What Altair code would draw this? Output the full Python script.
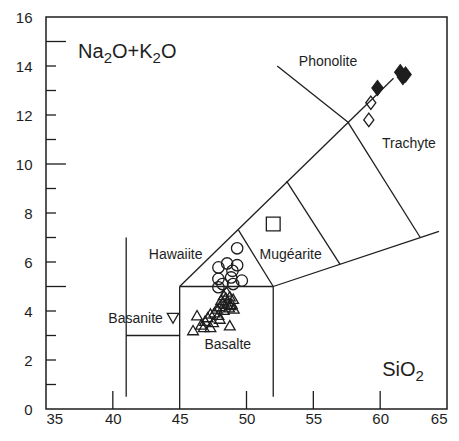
import altair as alt
import pandas as pd

# ---- data ----
circle_si = [49.3, 47.9, 48.55, 49.3, 48.95, 49.65, 47.9, 48.2, 48.85, 49.0, 47.9]
circle_alk = [6.56, 5.78, 5.94, 5.87, 5.64, 5.24, 5.31, 5.10, 5.37, 5.10, 4.97]

tri_si = [48.5, 48.3, 48.75, 49.0, 48.1, 48.6, 48.9, 48.35, 48.0, 48.7, 49.05, 47.8, 48.3,
          47.6, 47.3, 47.1, 46.9, 46.3, 46.0, 46.6, 46.8, 47.3, 48.0, 48.75, 47.5,
          48.45, 48.2, 48.8, 47.9]
tri_alk = [4.80, 4.65, 4.60, 4.50, 4.45, 4.40, 4.30, 4.30, 4.20, 4.15, 4.10, 4.10, 4.05,
           3.95, 3.90, 3.75, 3.60, 3.83, 3.22, 3.45, 3.35, 3.35, 3.69, 3.42, 3.55,
           4.55, 4.35, 4.25, 3.85]

invtri_si = [44.5]
invtri_alk = [3.7]

square_si = [52.0]
square_alk = [7.55]

odiam_si = [59.3, 59.15]
odiam_alk = [12.5, 11.8]

fdiam_si = [59.8, 61.5, 61.9, 61.7]
fdiam_alk = [13.1, 13.75, 13.65, 13.55]

# TAS field boundaries (SiO2, Na2O+K2O) segments
seg_x1 = [41, 41, 45, 45, 52, 45, 52.3, 57.6, 52, 49.4, 53]
seg_y1 = [0.5, 3, 0, 5, 0.5, 5, 14.0, 11.7, 5, 7.3, 9.3]
seg_x2 = [41, 45, 45, 52, 52, 61, 57.6, 63, 64.4, 52, 57]
seg_y2 = [7, 3, 5, 5, 5, 13.5, 11.7, 7, 7.25, 5, 5.9]

field_names = ["Phonolite", "Trachyte", "Hawaiite", "Mugéarite", "Basanite", "Basalte"]
field_si = [56.1, 62.15, 44.7, 53.3, 41.7, 48.6]
field_alk = [14.18, 10.83, 6.3, 6.3, 3.68, 2.63]

x_ticks = [35, 40, 45, 50, 55, 60, 65]
y_ticks = [0, 2, 4, 6, 8, 10, 12, 14, 16]
y_minor = [1, 2, 3, 4, 6, 7, 8, 9, 11, 12, 13, 14]
y_major = [5, 10, 15]
x_inner = [40, 50, 55, 60]

# axis titles split into pieces (normal text / subscript)
ytitle_parts = ["Na", "2", "O+K", "2", "O"]
xtitle_parts = ["SiO", "2"]

W, H = 401, 392
FONT = "Liberation Sans"
INK = "#1e1e1e"

X = alt.Scale(domain=[35, 65], nice=False, zero=False)
Y = alt.Scale(domain=[0, 16], nice=False, zero=False)

x_axis = alt.Axis(values=x_ticks, title=None, ticks=False, domain=False, grid=False,
                  labelPadding=2, labelFontSize=15, labelFont=FONT, labelColor=INK)
y_axis = alt.Axis(values=y_ticks, title=None, ticks=False, domain=False, grid=False,
                  labelPadding=14, labelFontSize=15, labelFont=FONT, labelColor=INK)

seg_df = pd.DataFrame({"x1": seg_x1, "y1": seg_y1, "x2": seg_x2, "y2": seg_y2})
lines = alt.Chart(seg_df).mark_rule(color=INK, strokeWidth=1.3).encode(
    x=alt.X("x1:Q", scale=X, axis=x_axis),
    y=alt.Y("y1:Q", scale=Y, axis=y_axis),
    x2="x2:Q", y2="y2:Q")

ymin_df = pd.DataFrame({"v": y_minor})
ymaj_df = pd.DataFrame({"v": y_major})
xin_df = pd.DataFrame({"v": x_inner})
tick_minor = alt.Chart(ymin_df).mark_rule(color=INK, strokeWidth=1.3).encode(
    y=alt.Y("v:Q", scale=Y), x=alt.value(0), x2=alt.value(10))
tick_major = alt.Chart(ymaj_df).mark_rule(color=INK, strokeWidth=1.3).encode(
    y=alt.Y("v:Q", scale=Y), x=alt.value(0), x2=alt.value(20))
tick_x = alt.Chart(xin_df).mark_rule(color=INK, strokeWidth=1.3).encode(
    x=alt.X("v:Q", scale=X), y=alt.value(H), y2=alt.value(H - 18))


def pts(si, alk, shape, size, filled=False):
    df = pd.DataFrame({"si": si, "alk": alk})
    return alt.Chart(df).mark_point(
        shape=shape, size=size, filled=filled,
        stroke=INK, strokeWidth=1.3,
        fill=INK if filled else "white", fillOpacity=1 if filled else 0,
        opacity=1).encode(
        x=alt.X("si:Q", scale=X), y=alt.Y("alk:Q", scale=Y))


diam_path = "M0,-1L0.75,0L0,1L-0.75,0Z"
circles = pts(circle_si, circle_alk, "circle", 130)
tris = pts(tri_si, tri_alk, "triangle-up", 115)
invtri = pts(invtri_si, invtri_alk, "triangle-down", 130)
square = pts(square_si, square_alk, "square", 190)
odiam = pts(odiam_si, odiam_alk, diam_path, 180)
fdiam = pts(fdiam_si, fdiam_alk, diam_path, 220, filled=True)

lab_df = pd.DataFrame({"t": field_names, "si": field_si, "alk": field_alk})
labels = alt.Chart(lab_df).mark_text(font=FONT, fontSize=14, color=INK, align="center",
                                     baseline="middle").encode(
    x=alt.X("si:Q", scale=X), y=alt.Y("alk:Q", scale=Y), text="t:N")


def title_layers(parts, si, alk, big=20, small=15):
    out = []
    off = 0.0
    widths = {"N": 0.722, "a": 0.556, "O": 0.778, "+": 0.584, "K": 0.667,
              "S": 0.667, "i": 0.222, "2": 0.556}
    for k, p in enumerate(parts):
        sub = (k % 2 == 1)
        fs = small if sub else big
        df = pd.DataFrame({"t": [p], "si": [si], "alk": [alk]})
        out.append(alt.Chart(df).mark_text(
            font=FONT, fontSize=fs, color=INK, align="left", baseline="alphabetic",
            dx=off, dy=5 if sub else 0).encode(
            x=alt.X("si:Q", scale=X), y=alt.Y("alk:Q", scale=Y), text="t:N"))
        off += sum(widths[c] for c in p) * fs
    return out


ytitle = title_layers(ytitle_parts, 37.4, 14.33)
xtitle = title_layers(xtitle_parts, 60.15, 1.33)

chart = alt.layer(lines, tick_minor, tick_major, tick_x, labels, *ytitle, *xtitle,
                  circles, tris, invtri, square, odiam, fdiam).properties(
    width=W, height=H,
    padding={"left": 38, "top": 9, "right": 4, "bottom": 20},
    autosize=alt.AutoSizeParams(type="none"),
    background="white",
).configure_view(stroke=INK, strokeWidth=1.5)

chart.save("out.html", embed_options={"renderer": "svg", "actions": False})
